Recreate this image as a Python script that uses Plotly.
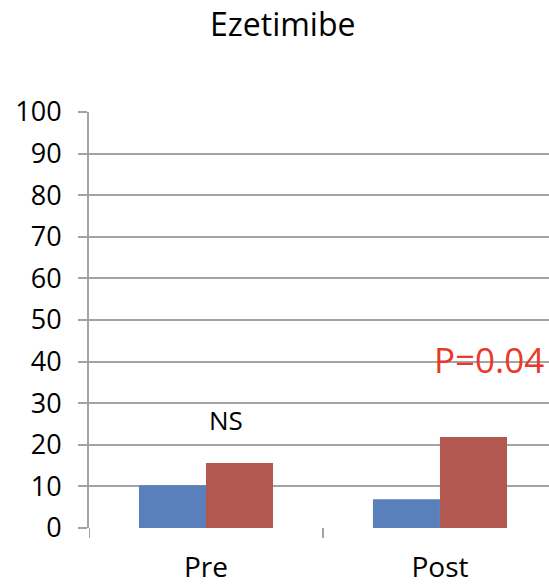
import plotly.graph_objects as go

# Chart data
categories = ["Pre", "Post"]
series_blue = [10.3, 6.9]
series_red = [15.6, 21.9]
y_ticks = list(range(0, 101, 10))

# Significance labels: (x position, y value, text, colour, font size)
notes = [
    (0.085, 26, "NS", "black", 26),
    (1.21, 40.4, "P=0.04", "#e8392c", 35),
]

FONT = "Open Sans"
GRID = "#a3a3a3"

fig = go.Figure()
fig.add_trace(go.Bar(x=[0, 1], y=series_blue, marker=dict(color="#5a80bb", line_width=0),
                     showlegend=False))
fig.add_trace(go.Bar(x=[0, 1], y=series_red, marker=dict(color="#b35850", line_width=0),
                     showlegend=False))

for xpos, ypos, text, color, size in notes:
    fig.add_annotation(x=xpos, y=ypos, text=text, showarrow=False,
                       font=dict(family=FONT, size=size, color=color),
                       xref="x", yref="y")

fig.update_layout(
    width=549, height=584,
    margin=dict(l=89, r=0, t=112, b=56),
    paper_bgcolor="white", plot_bgcolor="white",
    barmode="group", bargap=0.427, bargroupgap=0,
    title=dict(text="Ezetimibe", x=0.515, xanchor="center", y=0.958, yanchor="middle",
               font=dict(family=FONT, size=32, color="black")),
    xaxis=dict(
        range=[-0.5, 1.466], automargin=False,
        tickmode="array", tickvals=[0, 1], ticktext=categories,
        showgrid=False, zeroline=False,
        showline=False,
        ticks="", tickfont=dict(family=FONT, size=28, color="black"),
        ticklabelstandoff=20,
    ),
    yaxis=dict(
        range=[0, 100], tickvals=y_ticks, automargin=False,
        showgrid=True, gridcolor=GRID, gridwidth=2,
        zeroline=False,
        showline=True, linecolor=GRID, linewidth=2,
        ticks="outside", ticklen=9, tickcolor=GRID, tickwidth=2,
        tickfont=dict(family=FONT, size=27, color="black"),
        ticklabelstandoff=11,
    ),
)

# Category boundary tick marks on the x axis
for xb in [-0.5, 0.5]:
    fig.add_shape(type="line", xref="x", yref="paper", x0=xb, x1=xb, y0=0, y1=-0.024,
                  line=dict(color=GRID, width=2))

fig.write_html("out.html")
